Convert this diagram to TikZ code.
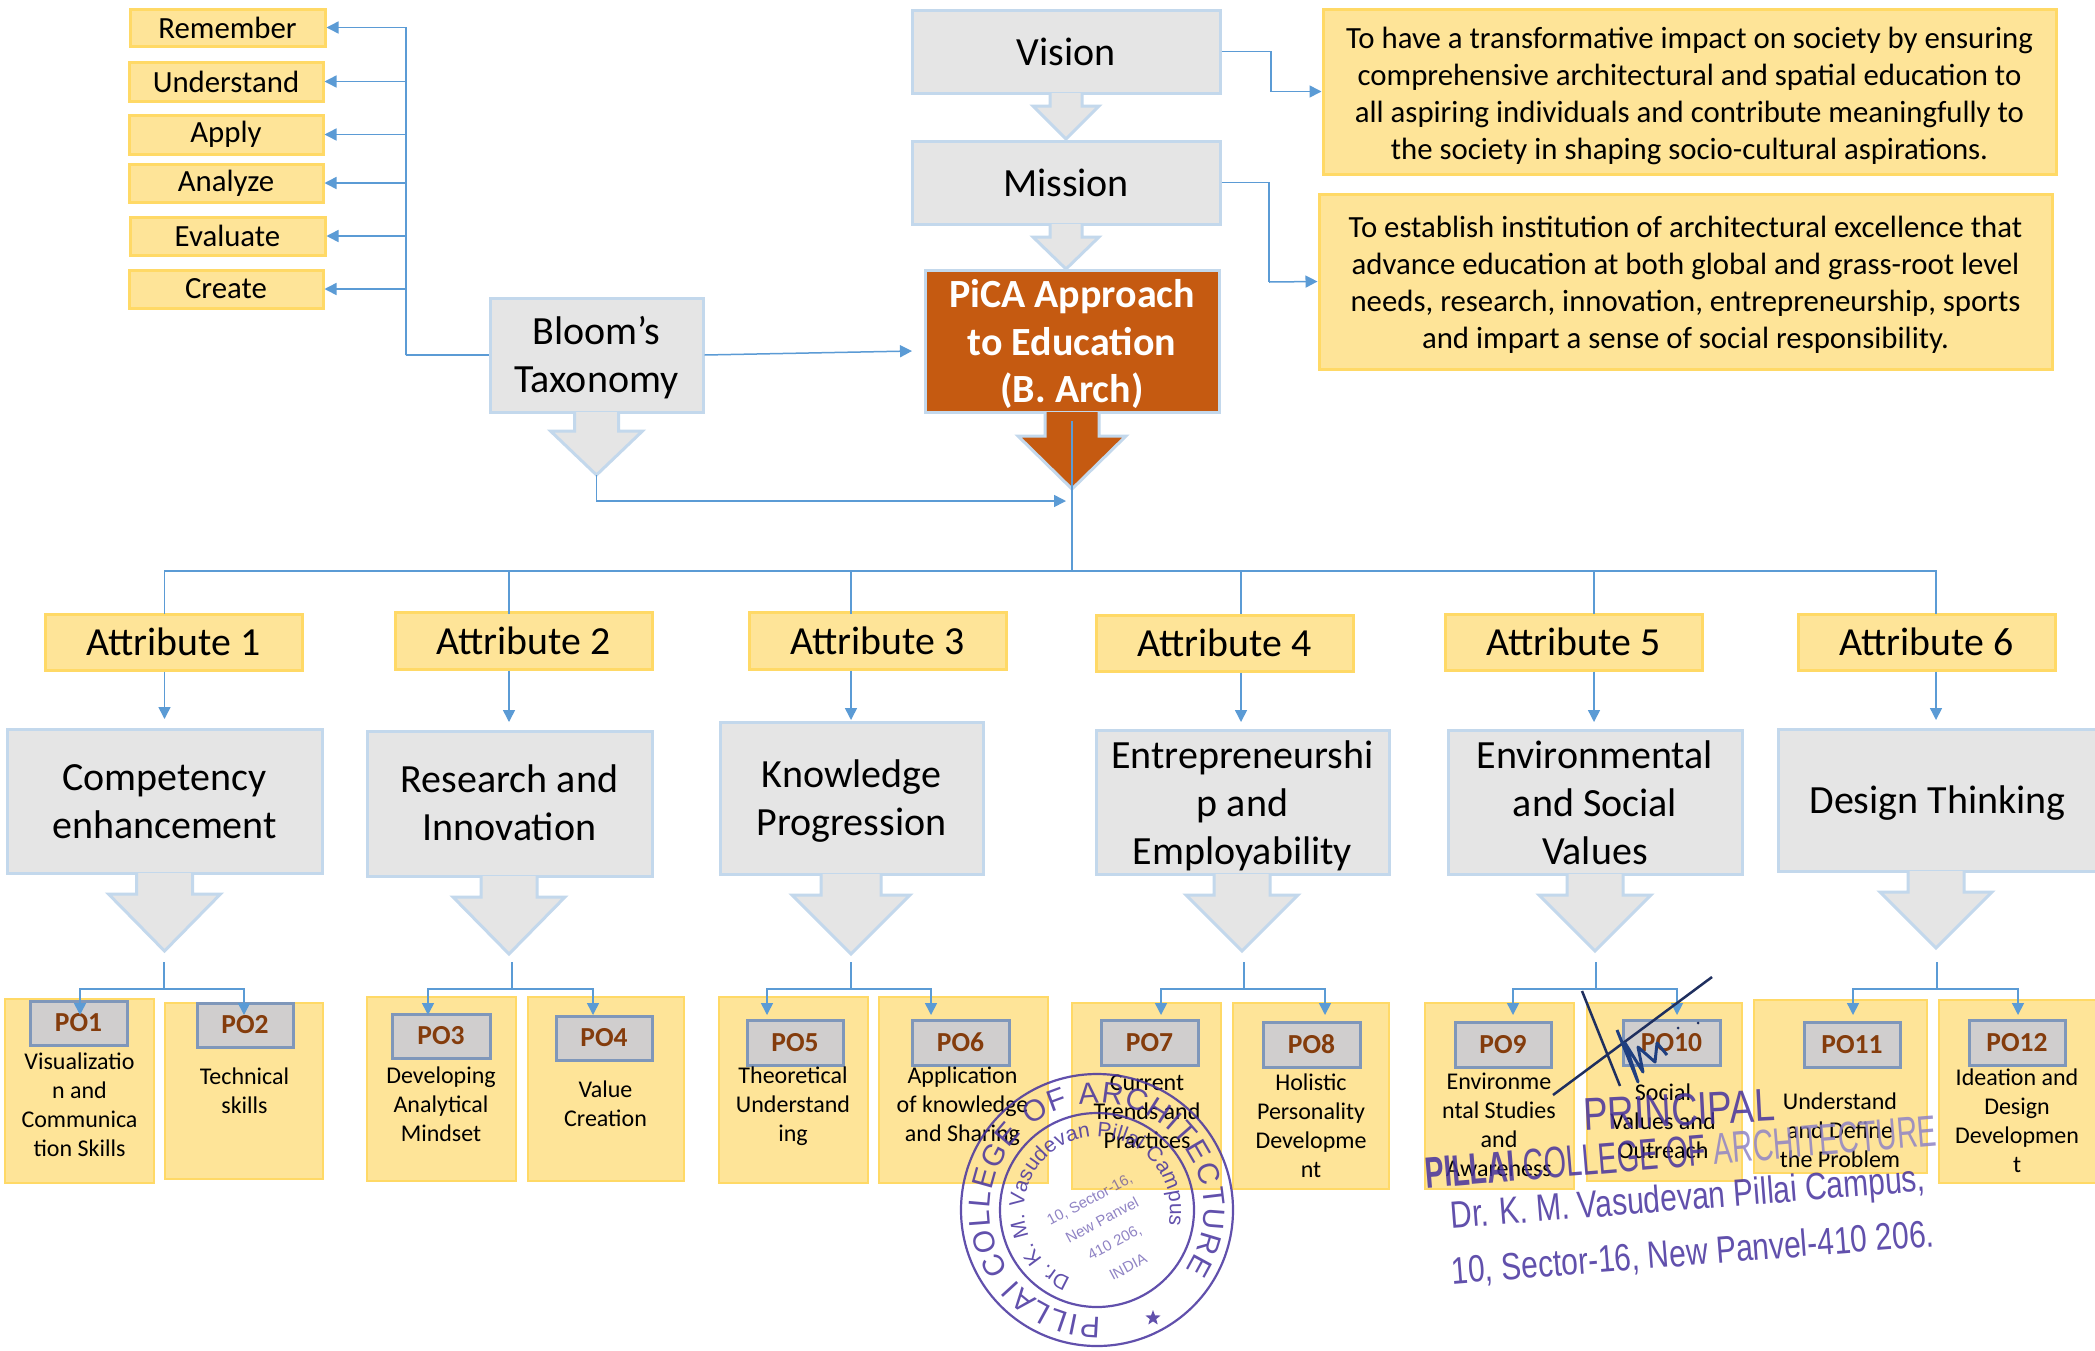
\documentclass[tikz,border=0pt]{standalone}
\usepackage{fontspec}
\setmainfont{Carlito}
\newfontfamily\stampfam{Liberation Sans}
\usetikzlibrary{arrows.meta,decorations.text,shapes.geometric,calc}
\definecolor{yfill}{HTML}{FEE498}
\definecolor{yline}{HTML}{FFD966}
\definecolor{gfill}{HTML}{E5E5E5}
\definecolor{gline}{HTML}{C3D8EC}
\definecolor{orng}{HTML}{C55A11}
\definecolor{pofill}{HTML}{D0CECE}
\definecolor{poline}{HTML}{7F97BA}
\definecolor{potext}{HTML}{843C0C}
\definecolor{conblue}{HTML}{5B9BD5}
\definecolor{stampc}{HTML}{46329E}
\definecolor{signc}{HTML}{1F2F5F}
\definecolor{signb}{HTML}{1F3F80}
\newcommand{\fs}[2]{\fontsize{#1}{#2}\selectfont}
\tikzset{
 yelbox/.style={draw=yline,fill=yfill,line width=3pt,inner sep=0pt,align=center,font=\fs{30.8}{37}},
 attrbox/.style={yelbox,font=\fs{39.8}{45}},
 pobox/.style={draw=yline,fill=yfill,line width=2.5pt,inner sep=0pt},
 potxt/.style={inner sep=0pt,align=center,font=\fs{24}{29}},
 polab/.style={draw=poline,fill=pofill,line width=3pt,inner sep=0pt,text=potext,font=\fs{27.5}{30}\bfseries},
 grybox/.style={draw=gline,fill=gfill,line width=3pt,inner sep=0pt,align=center,font=\fs{40}{48}},
 picabox/.style={draw=gline,fill=orng,line width=3pt,inner sep=0pt,align=center,text=white,font=\fs{40}{47.5}\bfseries},
 conn/.style={draw=conblue,line width=1.5pt},
 arr/.style={conn,-{Triangle[length=12pt,width=12pt]}},
 stamptxt/.style={text=stampc,opacity=.85,inner sep=0pt,align=center},
}
% name, style, x1, y1, x2, y2, text
\newcommand{\bx}[7]{\node[#2,minimum width={(#5-#3)*1pt},minimum height={(#6-#4)*1pt}] (#1) at ({(#3+#5)/2},{(#4+#6)/2}) {#7};}
% text lowered a little inside its box
\newcommand{\lo}[2]{\raisebox{-#1pt}[\height][\depth]{\begin{tabular}{@{}c@{}}#2\end{tabular}}}
% cx, ytop, half shaft, half head, yshoulder, ytip, fill, line
\newcommand{\blk}[8]{\fill[#7] (#1-#3,#2) -- (#1-#3,#5) -- (#1-#4,#5) -- (#1,#6) -- (#1+#4,#5) -- (#1+#3,#5) -- (#1+#3,#2) -- cycle;
 \draw[#8,line width=3pt,line join=miter] (#1-#3,#2) -- (#1-#3,#5) -- (#1-#4,#5) -- (#1,#6) -- (#1+#4,#5) -- (#1+#3,#5) -- (#1+#3,#2);}
% name, box x1 y1 x2 y2, label x1 y1 x2 y2, label
\newcommand{\po}[9]{\bx{#1}{pobox}{#2}{#3}{#4}{#5}{}\bx{#1l}{polab}{#6}{#7}{#8}{#9}}
\begin{document}
\begin{tikzpicture}[x=1pt,y=-1pt]
\useasboundingbox (0,0) rectangle (2095,1350);
\fill[white] (0,0) rectangle (2095,1350);

% Bloom levels
\bx{rem}{yelbox}{130}{9}{325}{46}{Remember}
\bx{und}{yelbox}{129}{62}{323}{101}{Understand}
\bx{app}{yelbox}{129}{115}{323}{154}{Apply}
\bx{ana}{yelbox}{129}{164}{323}{202}{Analyze}
\bx{eva}{yelbox}{130}{217}{325}{255}{Evaluate}
\bx{cre}{yelbox}{129}{270}{323}{308}{Create}

% Grey blocks top
\bx{bloom}{grybox}{490}{298}{703}{412}{\lo{4.3}{Bloom’s\\Taxonomy}}
\bx{vision}{grybox}{912}{10}{1220}{93}{\lo{4.2}{Vision}}
\bx{mission}{grybox}{912}{141}{1220}{224}{Mission}
\bx{pica}{picabox}{925}{271}{1219}{412}{\lo{4}{PiCA Approach\\to Education\\(B. Arch)}}
\blk{596.5}{412}{22}{46}{431}{475}{gfill}{gline}
\blk{1066}{93}{16}{33}{106}{139}{gfill}{gline}
\blk{1066}{224}{16}{33}{237}{269}{gfill}{gline}
\blk{1072}{412}{27}{54}{436}{489}{orng}{gline}

% Statements
\bx{visiont}{yelbox}{1323}{9}{2056}{174}{\lo{4.8}{To have a transformative impact on society by ensuring\\comprehensive architectural and spatial education to\\all aspiring individuals and contribute meaningfully to\\the society in shaping socio-cultural aspirations.}}
\bx{missiont}{yelbox}{1319}{194}{2052}{369}{\lo{4.3}{To establish institution of architectural excellence that\\advance education at both global and grass-root level\\needs, research, innovation, entrepreneurship, sports\\and impart a sense of social responsibility.}}

% Attributes
\bx{a1}{attrbox}{45}{614}{302}{670}{Attribute 1}
\bx{a2}{attrbox}{395}{612}{652}{669}{Attribute 2}
\bx{a3}{attrbox}{749}{612}{1006}{669}{Attribute 3}
\bx{a4}{attrbox}{1096}{615}{1353}{671}{Attribute 4}
\bx{a5}{attrbox}{1445}{614}{1702}{670}{Attribute 5}
\bx{a6}{attrbox}{1798}{614}{2055}{670}{Attribute 6}

% Outcome blocks
\bx{c1}{grybox}{7}{729}{322}{873}{\lo{4.2}{Competency\\enhancement}}
\bx{c2}{grybox}{367}{731}{652}{876}{\lo{3.7}{Research and\\Innovation}}
\bx{c3}{grybox}{720}{722}{983}{874}{\lo{4}{Knowledge\\Progression}}
\bx{c4}{grybox}{1096}{731}{1389}{874}{\lo{4}{Entrepreneurshi\\p and\\Employability}}
\bx{c5}{grybox}{1448}{731}{1742}{874}{\lo{4.5}{Environmental\\and Social\\Values}}
\bx{c6}{grybox}{1778}{729}{2097}{871}{\lo{3.8}{Design Thinking}}
\blk{164.5}{873}{28}{56}{894}{951}{gfill}{gline}
\blk{509}{876}{28}{56}{897}{954}{gfill}{gline}
\blk{851}{874}{30}{59}{895}{954}{gfill}{gline}
\blk{1242}{874}{28}{56}{895}{951}{gfill}{gline}
\blk{1595}{874}{28}{56}{895}{951}{gfill}{gline}
\blk{1936}{871}{28}{56}{892}{948}{gfill}{gline}

% PO boxes
\po{p1}{5}{999}{154}{1183}{30}{1001}{127}{1045}{PO1}
\po{p2}{165}{1003}{323}{1179}{197}{1003}{293}{1047}{PO2}
\po{p3}{367}{997}{516}{1181}{392}{1014}{490}{1058}{PO3}
\po{p4}{528}{997}{684}{1181}{556}{1016}{652}{1060}{PO4}
\po{p5}{719}{997}{868}{1183}{747}{1020}{843}{1065}{PO5}
\po{p6}{879}{997}{1048}{1183}{912}{1020}{1009}{1065}{PO6}
\po{p7}{1072}{1003}{1221}{1189}{1101}{1020}{1198}{1065}{PO7}
\po{p8}{1233}{1003}{1389}{1189}{1263}{1022}{1360}{1067}{PO8}
\po{p9}{1425}{1003}{1574}{1189}{1455}{1022}{1551}{1067}{PO9}
\po{p10}{1587}{1003}{1742}{1181}{1623}{1020}{1720}{1065}{PO10}
\po{p11}{1754}{1000}{1927}{1173}{1804}{1022}{1900}{1067}{PO11}
\po{p12}{1939}{1000}{2097}{1183}{1969}{1020}{2065}{1065}{PO12}

\node[potxt] (t1) at (79.5,1105) {Visualizatio\\n and\\Communica\\tion Skills};
\node[potxt] (t2) at (244.5,1091) {Technical\\skills};
\node[potxt] (t3) at (441,1104) {Developing\\Analytical\\Mindset};
\node[potxt] (t4) at (605.5,1103.5) {Value\\Creation};
\node[potxt] (t5) at (793,1106) {Theoretical\\Understand\\ing};
\node[potxt] (t6) at (962.5,1106) {Application\\of knowledge\\and Sharing};
\node[potxt] (t7) at (1147,1112) {Current\\Trends and\\Practices};
\node[potxt] (t8) at (1311,1126) {Holistic\\Personality\\Developme\\nt};
\node[potxt] (t9) at (1499,1125) {Environme\\ntal Studies\\and\\Awareness};
\node[potxt] (t10) at (1663,1121) {Social\\Values and\\Outreach};
\node[potxt] (t11) at (1840,1130) {Understand\\and Define\\the Problem};
\node[potxt] (t12) at (2017,1121) {Ideation and\\Design\\Developmen\\t};

% Bloom connectors
\coordinate (bt) at (406,355);
\draw[conn,line width=2pt] (bloom.west) -- (bt);
\foreach \n in {rem,und,app,ana,eva,cre} \draw[arr] (bt) |- (\n.east);
\coordinate (picain) at (912,351);
\draw[arr] (bloom.east) -- (picain);
\coordinate (btip) at (596.5,475);
\coordinate (merge) at (1066,501);
\draw[arr] (btip) |- (merge);

% Vision / mission connectors
\coordinate (vs) at (1271,91.5);
\draw[conn] (vision.east) -| (vs);
\draw[arr] (vs) -- (visiont.west |- vs);
\coordinate (ms) at (1269,282);
\draw[conn] (mission.east) -| (ms);
\draw[arr] (ms) -- (missiont.west);

% Bus
\coordinate (stem) at (1072,421);
\coordinate (bus) at (1072,571);
\draw[conn] (stem) -- (bus);
\foreach \i/\x/\t in {1/164.5/719,2/509/722,3/851/720,4/1241/722,5/1594/722,6/1936/720}{
  \coordinate (dtop\i) at (\x,614);
  \coordinate (dbot\i) at (\x,\t);
  \draw[conn] (bus) -| (dtop\i);
  \draw[arr] (a\i.south -| dbot\i) -- (dbot\i);
}

% PO connectors
\foreach \x/\l/\r/\pl/\pr in {164/80/244/A/B,512/428/593/C/D,851/767/931/E/F,1244/1161/1325/G/H,1596/1513/1677/I/J,1937/1853/2018/K/L}{
  \coordinate (top\pl) at (\x,962);
  \coordinate (bar\pl) at (\x,989);
  \coordinate (end\pl) at (\l,1015);
  \coordinate (end\pr) at (\r,1015);
  \draw[conn] (top\pl) -- (bar\pl);
  \draw[arr] (bar\pl) -| (end\pl);
  \draw[arr] (bar\pl) -| (end\pr);
}

% Round seal
\begin{scope}[shift={(1097,1210)},x=1pt,y=1pt,opacity=.85]
  \draw[stampc,line width=2.2pt] (0,0) circle (136);
  \draw[stampc,line width=2.2pt] (0,0) circle (97);
  \path[postaction={decorate,decoration={text along path,text align={fit to path},
     text={|\stampfam\fs{30}{32}\color{stampc}|PILLAI COLLEGE OF ARCHITECTURE}}}]
     (272:107) arc[start angle=272,end angle=-34,radius=107pt];
  \path[postaction={decorate,decoration={text along path,text align={fit to path},
     text={|\stampfam\fs{21}{23}\color{stampc}|Dr. K. M. Vasudevan Pillai Campus}}}]
     (249:73) arc[start angle=249,end angle=-12,radius=73pt];
  \node[star,star points=5,star point ratio=2.4,fill=stampc,minimum size=16pt,inner sep=0pt] (sealstar) at (56,-108) {};
\end{scope}
\begin{scope}[every node/.style={stamptxt,opacity=.6,rotate=28,font=\stampfam\fs{15}{16}}]
  \node (s1) at (1090,1200) {10, Sector-16,};
  \node (s2) at (1102,1220) {New Panvel};
  \node (s3) at (1115,1243) {410 206,};
  \node (s4) at (1128,1267) {INDIA};
\end{scope}

% Signature
\draw[signc,line width=2.5pt] (1553,1095) -- (1712,977);
\draw[signc,line width=2.5pt] (1582,991) -- (1620,1086);
\draw[signb,line width=3pt,line join=round] (1617,1030) -- (1638,1082) -- (1625,1043) -- (1643,1072) -- (1638,1047) -- (1655,1062) -- (1657,1043) -- (1667,1055);
\fill[signc] (1698,1023) circle (1.5);
\fill[signc] (1678,1028) circle (1.5);

% Principal stamp
\node[stamptxt,rotate=3,xscale=.8,font=\stampfam\fs{46}{50}] (pr1) at (1679,1110) {PRINCIPAL};
\node[stamptxt,rotate=4.8,xscale=.65,font=\stampfam\fs{44}{48}] (pr2) at (1681,1152) {{\bfseries PILLAI} COLLEGE OF {\color{stampc!60}ARCHITECTURE}};
\node[stamptxt,rotate=4.5,xscale=.79,font=\stampfam\fs{38}{42}] (pr3) at (1688,1200) {Dr. K. M. Vasudevan Pillai Campus,};
\node[stamptxt,rotate=4.5,xscale=.79,font=\stampfam\fs{38}{42}] (pr4) at (1693,1254) {10, Sector-16, New Panvel-410 206.};
\end{tikzpicture}
\end{document}
